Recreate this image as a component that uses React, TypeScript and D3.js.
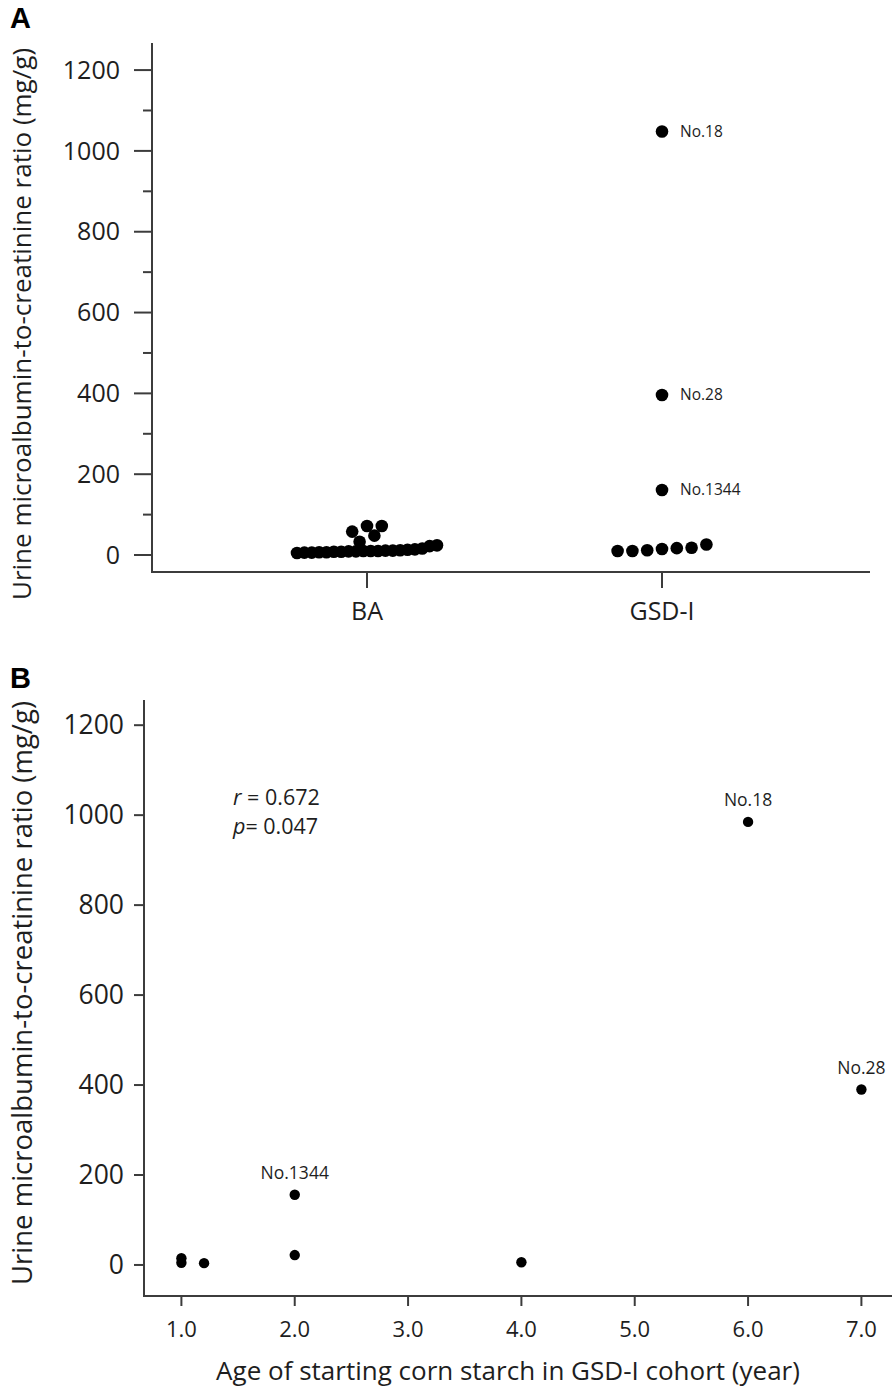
import React from 'react';
import * as d3 from 'd3';

// ---------- Data ----------
const groupsA = ['BA', 'GSD-I'];
const baValues = [5, 6, 6, 7, 7, 8, 8, 9, 9, 10, 10, 10, 11, 11, 12, 13, 14, 16, 22, 24, 33, 48, 58, 72, 72];
const gsdValues = [10, 10, 12, 15, 17, 18, 26, 161, 396, 1048];
const gsdLabelValues = [1048, 396, 161];
const gsdLabelNames = ['No.18', 'No.28', 'No.1344'];

const yTicksMajor = [0, 200, 400, 600, 800, 1000, 1200];
const yTicksMinorA = [100, 300, 500, 700, 900, 1100];

const ageStart = [1.0, 1.0, 1.2, 2.0, 2.0, 4.0, 6.0, 7.0];
const uacrB = [15, 5, 4, 22, 156, 6, 985, 390];
const bLabelAges = [2.0, 6.0, 7.0];
const bLabelValues = [156, 985, 390];
const bLabelNames = ['No.1344', 'No.18', 'No.28'];
const xTicksB = [1, 2, 3, 4, 5, 6, 7];

const yTitle = 'Urine microalbumin-to-creatinine ratio (mg/g)';
const xTitleB = 'Age of starting corn starch in GSD-I cohort (year)';

// ---------- Layout helpers ----------
function swarmOffsets(values: number[], binWidth: number, maxStep: number, maxSpan: number): number[] {
  const out = new Array(values.length).fill(0);
  const items = values.map((v, i) => ({ v, i }));
  const bins = d3.group(items, (d) => Math.floor(d.v / binWidth));
  bins.forEach((arr) => {
    const sorted = arr.slice().sort((a, b) => a.v - b.v);
    const n = sorted.length;
    const step = n > 1 ? Math.min(maxStep, maxSpan / (n - 1)) : 0;
    sorted.forEach((d, k) => {
      out[d.i] = (k - (n - 1) / 2) * step;
    });
  });
  return out;
}

const FONT = "'Open Sans', 'Noto Sans', sans-serif";
const AXIS = '#3c3c3c';
const TEXT = '#1e1e1e';

export default function App() {
  // Panel A scales
  const xA = d3.scalePoint<string>().domain(groupsA).range([367, 662]);
  const yA = d3.scaleLinear().domain([-42, 1267]).range([572, 43]);
  const axisLeftA = 152;
  const axisRightA = 870;

  const baOff = swarmOffsets(baValues, 28, 14.8, 140);
  const gsdOff = swarmOffsets(gsdValues, 28, 14.8, 140);

  // Panel B scales
  const xB = d3.scaleLinear().domain([0.67, 7.27]).range([144, 892]);
  const yB = d3.scaleLinear().domain([-69, 1256]).range([1296, 700]);

  return (
    <svg
      width={896}
      height={1392}
      style={{ position: 'absolute', left: 0, top: 0, background: '#fff' }}
      fontFamily={FONT}
    >
      {/* ===== Panel A ===== */}
      <text x={10} y={28} fontSize={29} fontWeight={700} fill="#000" fontFamily="'Liberation Sans', Arial, sans-serif">A</text>

      {/* y axis */}
      <line x1={axisLeftA} x2={axisLeftA} y1={yA(1267)} y2={yA(-42)} stroke={AXIS} strokeWidth={2} />
      {yTicksMajor.map((t) => (
        <g key={'ay' + t}>
          <line x1={axisLeftA - 18} x2={axisLeftA} y1={yA(t)} y2={yA(t)} stroke={AXIS} strokeWidth={2} />
          <text x={120} y={yA(t)} dy="0.35em" textAnchor="end" fontSize={25} fill={TEXT}>{t}</text>
        </g>
      ))}
      {yTicksMinorA.map((t) => (
        <line key={'aym' + t} x1={axisLeftA - 9} x2={axisLeftA} y1={yA(t)} y2={yA(t)} stroke={AXIS} strokeWidth={2} />
      ))}
      {/* x axis */}
      <line x1={axisLeftA - 1} x2={axisRightA} y1={yA(-42)} y2={yA(-42)} stroke={AXIS} strokeWidth={2} />
      {groupsA.map((g) => (
        <g key={'ax' + g}>
          <line x1={xA(g)!} x2={xA(g)!} y1={yA(-42)} y2={yA(-42) + 16} stroke={AXIS} strokeWidth={2} />
          <text x={xA(g)!} y={611} dy="0.35em" textAnchor="middle" fontSize={25} fill={TEXT}>{g}</text>
        </g>
      ))}
      <text
        transform={`translate(22, 324) rotate(-90)`}
        textAnchor="middle"
        dy="0.35em"
        fontSize={26}
        fill={TEXT}
      >
        {yTitle}
      </text>

      {/* dots A */}
      {baValues.map((v, i) => (
        <circle key={'ba' + i} cx={xA('BA')! + baOff[i]} cy={yA(v)} r={6.3} fill="#000" />
      ))}
      {gsdValues.map((v, i) => (
        <circle key={'gs' + i} cx={xA('GSD-I')! + gsdOff[i]} cy={yA(v)} r={6.3} fill="#000" />
      ))}
      {gsdLabelValues.map((v, i) => (
        <text key={'gl' + i} x={xA('GSD-I')! + 18} y={yA(v)} dy="0.35em" fontSize={15.5} fill={TEXT}>
          {gsdLabelNames[i]}
        </text>
      ))}

      {/* ===== Panel B ===== */}
      <text x={10} y={688} fontSize={29} fontWeight={700} fill="#000" fontFamily="'Liberation Sans', Arial, sans-serif">B</text>

      <line x1={xB(0.67)} x2={xB(0.67)} y1={yB(1256)} y2={yB(-69)} stroke={AXIS} strokeWidth={2} />
      {yTicksMajor.map((t) => (
        <g key={'by' + t}>
          <line x1={xB(0.67) - 10} x2={xB(0.67)} y1={yB(t)} y2={yB(t)} stroke={AXIS} strokeWidth={2} />
          <text x={124} y={yB(t)} dy="0.35em" textAnchor="end" fontSize={26.5} fill={TEXT}>{t}</text>
        </g>
      ))}
      <line x1={xB(0.67) - 1} x2={xB(7.27)} y1={yB(-69)} y2={yB(-69)} stroke={AXIS} strokeWidth={2} />
      {xTicksB.map((t) => (
        <g key={'bx' + t}>
          <line x1={xB(t)} x2={xB(t)} y1={yB(-69)} y2={yB(-69) + 10} stroke={AXIS} strokeWidth={2} />
          <text x={xB(t)} y={1329} dy="0.35em" textAnchor="middle" fontSize={22} fill={TEXT}>{t.toFixed(1)}</text>
        </g>
      ))}
      <text x={508} y={1371} dy="0.35em" textAnchor="middle" fontSize={26} fill={TEXT}>{xTitleB}</text>
      <text
        transform={`translate(22, 993) rotate(-90)`}
        textAnchor="middle"
        dy="0.35em"
        fontSize={27.5}
        fill={TEXT}
      >
        {yTitle}
      </text>

      {ageStart.map((a, i) => (
        <circle key={'bp' + i} cx={xB(a)} cy={yB(uacrB[i])} r={5.2} fill="#000" />
      ))}
      {bLabelAges.map((a, i) => (
        <text key={'bl' + i} x={xB(a)} y={yB(bLabelValues[i]) - 22} dy="0.35em" textAnchor="middle" fontSize={17.5} fill={TEXT}>
          {bLabelNames[i]}
        </text>
      ))}

      <text x={233} y={797} dy="0.35em" fontSize={21.5} fill={TEXT}>
        <tspan fontStyle="italic">r</tspan> = 0.672
      </text>
      <text x={233} y={826} dy="0.35em" fontSize={21.5} fill={TEXT}>
        <tspan fontStyle="italic">p</tspan>= 0.047
      </text>
    </svg>
  );
}
